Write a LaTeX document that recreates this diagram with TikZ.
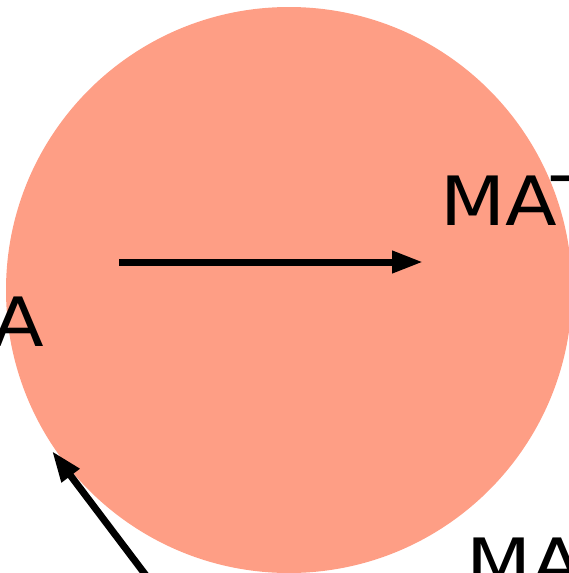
\documentclass[tikz,border=0pt]{standalone}
\usepackage{fontspec}
\setmainfont{DejaVu Sans}
\usetikzlibrary{arrows.meta}
\definecolor{salmonfill}{RGB}{254,158,133}
\newcommand{\wide}[1]{\scalebox{1.11}[1]{#1}}
\tikzset{
  lbl/.style={inner sep=0pt, font=\fontsize{68}{68}\selectfont},
  arr/.style={line width=7pt, -{Triangle[length=31pt,width=21pt]}}
}
\begin{document}
\begin{tikzpicture}[x=1pt,y=-1pt]
\useasboundingbox (0,0) rectangle (569,573);
\clip (0,0) rectangle (569,573);
\fill[salmonfill] (289,290) circle[radius=283];
\node[lbl, anchor=base west] (mat) at (440,225) {\wide{MAT}};
\node[lbl, anchor=base east] (a) at (44,346) {\wide{A}};
\node[lbl, anchor=base west] (ma) at (466,587) {\wide{MA}};
\coordinate (h1) at (119,262);
\coordinate (h2) at (423,262);
\draw[arr] (h1) -- (h2);
\coordinate (d1) at (160,594);
\coordinate (d2) at (52,451);
\draw[arr] (d1) -- (d2);
\end{tikzpicture}
\end{document}
